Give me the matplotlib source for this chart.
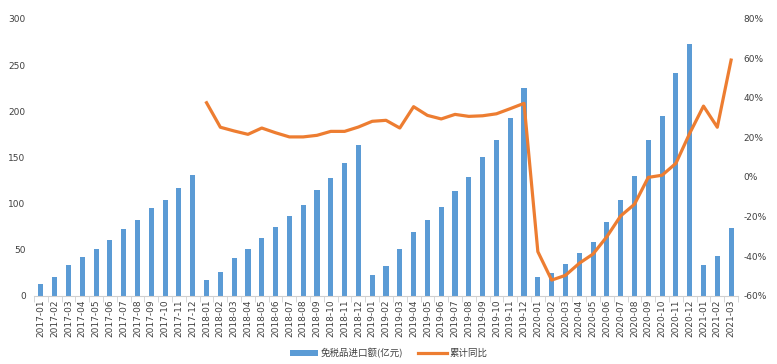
import matplotlib.pyplot as plt
import numpy as np

plt.rcParams['font.family'] = ['DejaVu Sans', 'Noto Sans CJK SC']

months = []
for y in range(2017, 2022):
    for m in range(1, 13):
        if y == 2021 and m > 3:
            break
        months.append(f"{y}-{m:02d}")

# 免税品进口额(亿元)
imports = [12.5, 20.4, 33, 41.8, 50.8, 60.5, 72.1, 81.9, 94.9, 103.6, 116.6, 130.7,
           16.8, 25.5, 41, 50.4, 62.4, 74.3, 86.3, 98.2, 114.5, 127.5, 143.8, 163.3,
           22.2, 32, 50.4, 68.9, 81.9, 96, 113.4, 128.6, 150.3, 168.7, 192.6, 225,
           20.4, 24.4, 34.2, 46.1, 58, 79.7, 103.6, 129.7, 168.7, 194.7, 241.4, 272.9,
           33, 42.9, 73.2]

# 累计同比 (%), starts 2018-01
yoy = [37.6, 25.2, 23.3, 21.6, 24.8, 22.4, 20.3, 20.3, 21.1, 23.1, 23.1, 25.3,
       28.2, 28.7, 24.8, 35.6, 31.2, 29.4, 31.7, 30.7, 31.0, 32.0, 34.6, 37.3,
       -37.8, -52.2, -49.8, -43.7, -39.0, -30.2, -19.7, -13.8, -0.2, 0.9, 6.9, 22.1,
       35.9, 25.2, 59.2]

bar_color = '#5B9BD5'
line_color = '#ED7D31'
txt = '#404040'

fig = plt.figure(figsize=(7.77, 3.64), dpi=100)
ax = fig.add_axes([34/777, 1 - 295.5/364, 704/777, 276.5/364])
x = np.arange(len(months))
ax.bar(x, imports, width=0.37, color=bar_color, label='免税品进口额(亿元)', zorder=2)
ax.set_xlim(-0.5, len(months) - 0.5)
ax.set_ylim(0, 300)
ax.set_yticks(range(0, 301, 50))
ax.set_xticks(x)
ax.set_xticklabels(months, rotation=90, fontsize=6.5, color=txt)
ax.set_xticks(np.arange(-0.5, len(months), 1), minor=True)
ax.tick_params(axis='x', which='major', length=0, pad=3)
ax.tick_params(axis='x', which='minor', length=4, color='#d0d0d0')
ax.tick_params(axis='y', length=0, labelsize=6.5, labelcolor=txt, pad=6)
for s in ['top', 'right', 'left']:
    ax.spines[s].set_visible(False)
ax.spines['bottom'].set_color('#d0d0d0')

ax2 = ax.twinx()
ax2.plot(x[12:], yoy, color=line_color, lw=2.3, label='累计同比', zorder=3)
ax2.set_ylim(-60, 80)
ax2.set_yticks(range(-60, 81, 20))
ax2.set_yticklabels([f"{v}%" for v in range(-60, 81, 20)])
ax2.tick_params(axis='y', length=0, labelsize=6.5, labelcolor=txt, pad=4)
for s in ['top', 'right', 'left', 'bottom']:
    ax2.spines[s].set_visible(False)

h1, l1 = ax.get_legend_handles_labels()
h2, l2 = ax2.get_legend_handles_labels()
fig.legend(h1 + h2, l1 + l2, loc='center', bbox_to_anchor=(0.5, 1 - 353/364),
           ncol=2, frameon=False, handlelength=3.0, handletextpad=0.3, columnspacing=1.6,
           prop={'family': ['Noto Sans CJK SC', 'DejaVu Sans'], 'size': 6.8}, labelcolor=txt)

fig.savefig('out.png', dpi=100)
